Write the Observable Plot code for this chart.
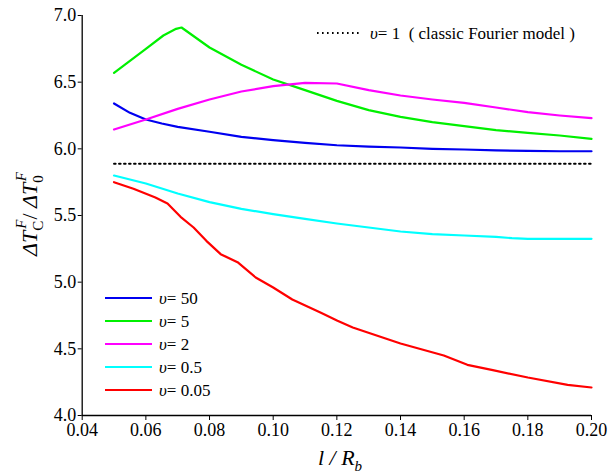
<!DOCTYPE html>
<html>
<head>
<meta charset="utf-8">
<script src="https://cdn.jsdelivr.net/npm/d3@7"></script>
<script src="https://cdn.jsdelivr.net/npm/@observablehq/plot@0.6"></script>
<style>
  html, body { margin: 0; padding: 0; background: #fff; }
</style>
</head>
<body>
<div id="chart"></div>
<script>
// ---- data ----
const xTicks = [0.04, 0.06, 0.08, 0.10, 0.12, 0.14, 0.16, 0.18, 0.20];
const yTicks = [4.0, 4.5, 5.0, 5.5, 6.0, 6.5, 7.0];

const seriesNu = ["50", "5", "2", "0.5", "0.05"];
const seriesColors = ["#0000f0", "#00f000", "#ff00ff", "#00ffff", "#ff0000"];

const nu50X = [0.05, 0.055, 0.06, 0.065, 0.07, 0.08, 0.09, 0.10, 0.11, 0.12, 0.13, 0.14, 0.15, 0.16, 0.17, 0.18, 0.19, 0.20];
const nu50Y = [6.34, 6.27, 6.22, 6.19, 6.165, 6.128, 6.09, 6.066, 6.044, 6.027, 6.017, 6.01, 6.0, 5.995, 5.988, 5.985, 5.982, 5.982];

const nu5X = [0.05, 0.055, 0.06, 0.0655, 0.0695, 0.0712, 0.08, 0.09, 0.10, 0.11, 0.12, 0.13, 0.14, 0.15, 0.16, 0.17, 0.18, 0.19, 0.20];
const nu5Y = [6.57, 6.66, 6.75, 6.85, 6.90, 6.91, 6.76, 6.63, 6.52, 6.44, 6.36, 6.29, 6.24, 6.20, 6.17, 6.14, 6.12, 6.10, 6.075];

const nu2X = [0.05, 0.06, 0.07, 0.08, 0.09, 0.10, 0.11, 0.12, 0.13, 0.14, 0.15, 0.16, 0.17, 0.18, 0.19, 0.20];
const nu2Y = [6.145, 6.22, 6.30, 6.37, 6.43, 6.47, 6.495, 6.49, 6.44, 6.40, 6.37, 6.345, 6.31, 6.275, 6.25, 6.23];

const nu05X = [0.05, 0.06, 0.07, 0.08, 0.09, 0.10, 0.11, 0.12, 0.13, 0.14, 0.15, 0.16, 0.17, 0.175, 0.18, 0.19, 0.20];
const nu05Y = [5.80, 5.74, 5.665, 5.60, 5.55, 5.51, 5.475, 5.44, 5.41, 5.38, 5.36, 5.35, 5.34, 5.33, 5.325, 5.325, 5.325];

const nu005X = [0.05, 0.0561, 0.063, 0.0668, 0.0709, 0.075, 0.079, 0.0835, 0.0888, 0.0945, 0.100, 0.106, 0.115, 0.1202, 0.125, 0.14, 0.1536, 0.161, 0.169, 0.18, 0.1925, 0.20];
const nu005Y = [5.75, 5.70, 5.635, 5.59, 5.49, 5.41, 5.31, 5.21, 5.15, 5.035, 4.96, 4.87, 4.77, 4.71, 4.66, 4.54, 4.45, 4.38, 4.34, 4.285, 4.23, 4.21];

const fourierX = [0.05, 0.20];
const fourierY = [5.888, 5.888];

// ---- build table ----
const seriesX = [nu50X, nu5X, nu2X, nu05X, nu005X];
const seriesY = [nu50Y, nu5Y, nu2Y, nu05Y, nu005Y];
const rows = [];
seriesX.forEach((xs, i) => xs.forEach((x, j) => rows.push({series: seriesNu[i], x, y: seriesY[i][j]})));
const fourierRows = fourierX.map((x, j) => ({x, y: fourierY[j]}));

const serifFont = "Liberation Serif";

const chart = Plot.plot({
  width: 610,
  height: 476,
  marginLeft: 81.7,
  marginRight: 19,
  marginTop: 15,
  marginBottom: 61,
  style: {fontFamily: serifFont, fontSize: "18px", color: "black", background: "white", overflow: "visible"},
  x: {domain: [0.04, 0.20], label: null},
  y: {domain: [4.0, 7.0], label: null},
  color: {domain: seriesNu, range: seriesColors},
  marks: [
    Plot.axisX({ticks: xTicks, tickFormat: d3.format(".2f"), tickSize: 5, tickPadding: 3, fontSize: 18, label: null}),
    Plot.axisY({ticks: yTicks, tickFormat: d3.format(".1f"), tickSize: 4, tickPadding: 2, fontSize: 18, label: null}),
    Plot.ruleX([0.04], {stroke: "black", strokeWidth: 1.3}),
    Plot.ruleY([4.0], {stroke: "black", strokeWidth: 1.3}),
    Plot.line(fourierRows, {x: "x", y: "y", stroke: "black", strokeWidth: 2, strokeDasharray: "1.6,3.4"}),
    Plot.line(rows, {x: "x", y: "y", z: "series", stroke: "series", strokeWidth: 2.2, curve: "linear"})
  ]
});

document.getElementById("chart").appendChild(chart);

const svg = d3.select(chart);

// y-axis label: ΔT_C^F / ΔT_0^F
const yl = svg.append("text")
  .attr("transform", "translate(37,214) rotate(-90)")
  .attr("text-anchor", "middle")
  .attr("font-family", serifFont)
  .attr("font-size", 22)
  .attr("font-style", "italic")
  .attr("fill", "black");
yl.append("tspan").text("ΔT");
yl.append("tspan").attr("font-size", 15).attr("font-style", "normal").attr("dy", 6).text("C");
yl.append("tspan").attr("font-size", 15).attr("dx", -8).attr("dy", -17).text("F");
yl.append("tspan").attr("font-style", "normal").attr("dy", 11).text("/ ");
yl.append("tspan").text("ΔT");
yl.append("tspan").attr("font-size", 15).attr("font-style", "normal").attr("dy", 6).text("0");
yl.append("tspan").attr("font-size", 15).attr("dx", -6).attr("dy", -17).text("F");

// x-axis label: l / R_b
const xl = svg.append("text")
  .attr("x", 340).attr("y", 465)
  .attr("text-anchor", "middle")
  .attr("font-family", serifFont)
  .attr("font-size", 22)
  .attr("font-style", "italic")
  .attr("fill", "black");
xl.append("tspan").text("l / R");
xl.append("tspan").attr("font-size", 15).attr("dy", 6).text("b");

// series legend (lower-left)
const lg = svg.append("g").attr("font-family", serifFont).attr("font-size", 17).attr("text-anchor", "start");
seriesNu.forEach((nu, i) => {
  const y = 298 + i * 23;
  lg.append("line").attr("x1", 105).attr("x2", 152).attr("y1", y).attr("y2", y)
    .attr("stroke", seriesColors[i]).attr("stroke-width", 2.2);
  const t = lg.append("text").attr("x", 159).attr("y", y + 6).attr("fill", "black");
  t.append("tspan").attr("font-style", "italic").text("υ");
  t.append("tspan").text("= " + nu);
});

// reference legend (top)
const rg = svg.append("g").attr("font-family", serifFont).attr("font-size", 17).attr("text-anchor", "start");
rg.append("line").attr("x1", 317).attr("x2", 361).attr("y1", 33).attr("y2", 33)
  .attr("stroke", "black").attr("stroke-width", 2).attr("stroke-dasharray", "1.6,3.4");
const rt = rg.append("text").attr("x", 370).attr("y", 39).attr("fill", "black");
rt.append("tspan").attr("font-style", "italic").text("υ");
rt.append("tspan").text("= 1  ( classic Fourier model )");
</script>
</body>
</html>
